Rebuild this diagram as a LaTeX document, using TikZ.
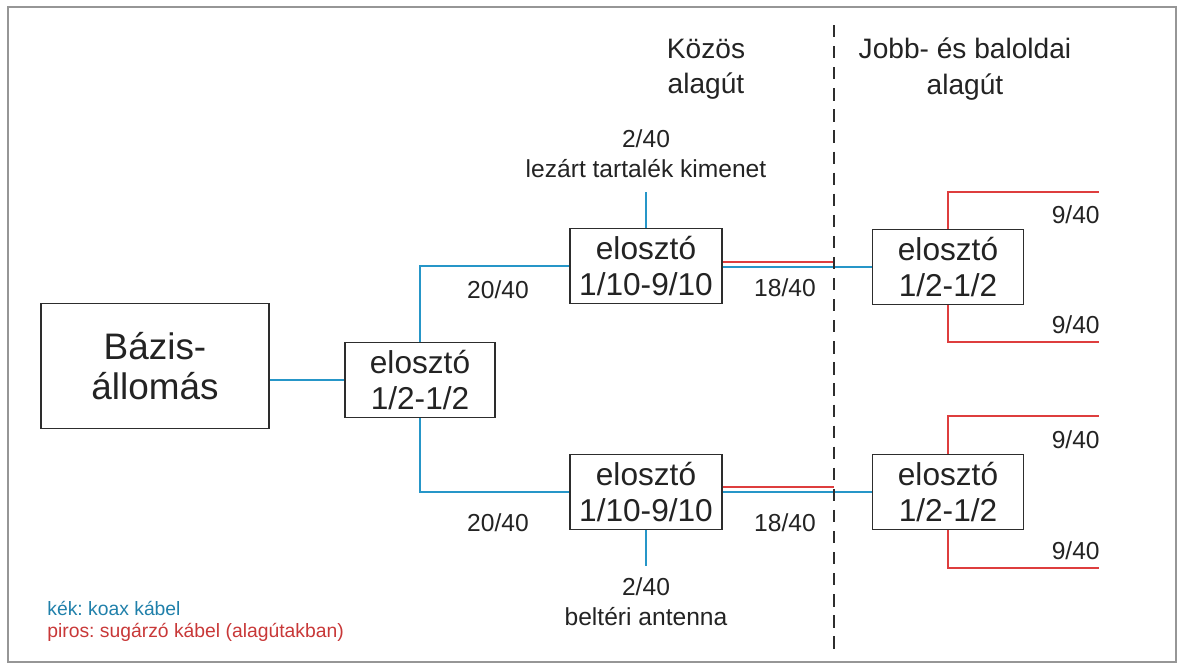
\documentclass[tikz,border=0pt]{standalone}
\usepackage{fontspec}
\setmainfont{Liberation Sans}
\usepackage{xcolor}
\usepackage{tikz}
\usetikzlibrary{positioning}
\definecolor{coaxBlue}{RGB}{38,150,200}
\definecolor{radRed}{RGB}{222,62,62}
\definecolor{boxGray}{RGB}{45,45,45}
\definecolor{txtGray}{RGB}{35,35,35}
\definecolor{frameGray}{RGB}{150,150,150}
\frenchspacing

\begin{document}
\begin{tikzpicture}[
    x=0.02cm, y=-0.02cm,
    box/.style={rectangle, draw=boxGray, line width=0.9pt, align=center,
                text=txtGray, inner sep=0pt, font=\fontsize{18}{21}\selectfont},
    bigbox/.style={box, minimum width=4.56cm, minimum height=2.5cm,
                font=\fontsize{21}{23}\selectfont},
    splitbox/.style={box, minimum width=3.04cm, minimum height=1.5cm},
    lbl/.style={text=txtGray, font=\fontsize{14}{17}\selectfont, align=center, inner sep=0pt},
    head/.style={text=txtGray, font=\fontsize{16}{20}\selectfont, align=center, inner sep=0pt},
    coax/.style={coaxBlue, line width=0.9pt},
    rad/.style={radRed, line width=0.9pt},
  ]
    % frame
    \draw[frameGray, line width=0.8pt] (8,7) rectangle (1176,662);
    \useasboundingbox (0,0) rectangle (1181,666);

    % base station and first splitter
    \node[bigbox] (base) at (155,366) {Bázis-\\állomás};
    \node[splitbox, minimum width=3.0cm] (sp0) at (420,380) {elosztó\\1/2-1/2};

    % common tunnel splitters
    \node[splitbox] (spA) at (646,266) {elosztó\\1/10-9/10};
    \node[splitbox] (spB) at (646,492) {elosztó\\1/10-9/10};

    % side tunnel splitters
    \node[splitbox, minimum width=3.02cm] (spC) at (948,267) {elosztó\\1/2-1/2};
    \node[splitbox, minimum width=3.02cm] (spD) at (948,492) {elosztó\\1/2-1/2};

    % free ends
    \coordinate (topA) at (646,192);
    \coordinate (botB) at (646,566);
    \coordinate (wall) at (834,0);
    \coordinate (c1) at (1099,192);
    \coordinate (c2) at (1099,342);
    \coordinate (d1) at (1099,416);
    \coordinate (d2) at (1099,568);

    % coax
    \draw[coax] (base.east |- sp0.west) -- (sp0.west);
    \draw[coax] (sp0.north) |- (spA.west);
    \draw[coax] (sp0.south) |- (spB.west);
    \draw[coax] (spA.north) -- (topA);
    \draw[coax] (spB.south) -- (botB);
    \draw[coax] ([yshift=-0.02cm]spA.east) -- ([yshift=-0.02cm]spA.east -| spC.west);
    \draw[coax] (spB.east) -- (spB.east -| spD.west);

    % radiating cable
    \draw[rad] ([yshift=0.08cm]spA.east) -- ([yshift=0.08cm]spA.east -| wall);
    \draw[rad] ([yshift=0.1cm]spB.east) -- ([yshift=0.1cm]spB.east -| wall);
    \draw[rad] (spC.north) |- (c1);
    \draw[rad] (spC.south) |- (c2);
    \draw[rad] (spD.north) |- (d1);
    \draw[rad] (spD.south) |- (d2);

    % tunnel border
    \draw[boxGray, line width=0.9pt, dash pattern=on 7pt off 5pt] (834,25) -- (834,655);

    % labels
    \node[lbl] at (498,290) {20/40};
    \node[lbl] at (498,523) {20/40};
    \node[lbl] at (785,288) {18/40};
    \node[lbl] at (785,523) {18/40};
    \node[lbl, above=0.28cm of topA] (tA) {2/40\\lezárt tartalék kimenet};
    \node[lbl, below=0.22cm of botB] (tB) {2/40\\beltéri antenna};
    \node[lbl, anchor=east] at (1100,215) {9/40};
    \node[lbl, anchor=east] at (1100,325) {9/40};
    \node[lbl, anchor=east] at (1100,440) {9/40};
    \node[lbl, anchor=east] at (1100,551) {9/40};

    % headers
    \node[head] (hA) at (706,69) {Közös\\alagút};
    \node[head] (hB) at (965,69) {Jobb- és baloldai\\alagút};

    % legend
    \node[anchor=west, inner sep=0pt, font=\fontsize{11}{13}\selectfont, text=coaxBlue!85!black] (lg1) at (47,608) {kék: koax kábel};
    \node[anchor=west, inner sep=0pt, font=\fontsize{11}{13}\selectfont, text=radRed!90!black] (lg2) at (47,632) {piros: sugárzó kábel (alagútakban)};
\end{tikzpicture}
\end{document}
